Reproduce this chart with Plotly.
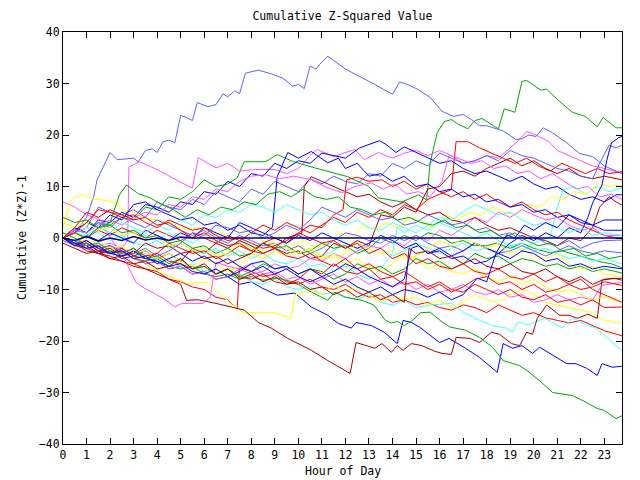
import plotly.graph_objects as go

# ---- data: (hour, cumulative value) waypoints ----
s1 = [(0,0),(0.5,1),(1,4),(1.3,8),(1.45,11.3),(1.7,13.8),(2,16.6),(2.3,15.2),(3,15.5),(3.2,14.8),(3.5,17),(3.8,17.3),(4,16.6),(4.25,18.7),(4.5,19),(4.75,18.5),(5,23.8),(5.25,23.4),(5.5,22.8),(5.7,26.3),(5.9,25.9),(6.15,25.5),(6.5,25.9),(6.8,28),(7,27.4),(7.3,28.6),(7.5,28),(7.75,32),(8.3,32.6),(8.9,31.8),(9.35,31),(9.75,29.5),(10,29.8),(10.25,29),(10.5,33.4),(10.75,32.8),(10.9,33.7),(11.25,35.3),(12,32.8),(12.6,31.4),(13.25,29.8),(14,27.9),(14.3,30.3),(14.65,29.8),(15.1,28.8),(15.6,27.3),(16.1,24.6),(16.6,23.6),(17,24),(17.35,23),(17.7,21.8),(18,21.8),(18.7,20.8),(19.25,19.1),(19.5,19.3),(19.8,20),(20.1,19.7),(20.4,21.4),(20.8,20.4),(21.4,18.5),(21.95,16.4),(22.5,15.8),(23,14),(23.5,13),(23.75,12.5)]
s2 = [(0,0),(0.5,1),(1,2),(1.5,6),(2,5),(2.5,4.5),(3,5.5),(3.5,4),(4,7),(4.5,6),(5,5.5),(5.5,7.5),(6,6.5),(6.5,9),(7,8),(7.5,7),(8,9.5),(8.5,8.5),(9,11),(9.5,10),(10,9),(10.5,11.5),(11,10.5),(11.5,12),(12,11),(12.5,10.5),(13,12.5),(13.5,12),(14,14.5),(14.5,13.5),(15,15),(15.5,14),(16,16.5),(16.5,15.5),(17,14.5),(17.5,15),(18,16),(18.5,15),(19,17),(19.5,16),(20,15.5),(20.5,14.5),(21,13.5),(21.5,13),(22,12),(22.5,11.5),(22.8,14.5),(23.2,18),(23.5,17.5),(23.75,18)]
s3 = [(0,0),(0.5,1.5),(1,1),(1.5,3),(2,2),(2.5,4),(3,3),(3.5,2),(4,3.5),(4.5,2.5),(5,1.5),(5.5,0.5),(6,1.5),(6.5,0),(7,-1),(7.5,0.5),(8,-0.5),(8.5,-1.5),(9,-1),(9.5,-2.5),(10,-1.5),(10.5,-3),(11,-2),(11.5,-0.5),(12,1),(12.5,0.5),(13,-0.5),(13.5,-1),(14,0.5),(14.5,-0.5),(15,0.5),(15.5,-1),(16,-2),(16.5,-1.5),(17,-2.5),(17.5,-1),(18,-2),(18.5,-3),(19,-2.5),(19.5,-1.5),(20,-2.5),(20.5,-3.5),(21,-2.5),(21.5,-1.5),(22,-2.5),(22.5,-3),(23,-2.5),(23.75,-2.9)]
s4 = [(0,-0.5),(0.5,-1.5),(1,-1),(1.5,-2),(2,-1.5),(2.5,-2.5),(3,-3),(3.5,-2),(4,-3.5),(4.5,-2.5),(5,-1),(5.5,1),(6,0.5),(6.5,2.5),(7,2),(7.5,1),(8,1.5),(8.5,0),(9,1),(9.5,2.5),(10,1.5),(10.5,3.5),(11,6),(11.5,5),(12,4),(12.5,5.5),(13,4.5),(13.5,3.5),(14,4),(14.5,2.5),(15,3),(15.5,4.5),(16,3.5),(16.5,2.5),(17,3),(17.5,1.5),(18,2),(18.5,0.5),(19,1),(19.5,-0.5),(20,0.5),(20.5,-1),(21,-1.5),(21.5,-0.5),(22,-2),(22.5,-1),(23,-0.5),(23.75,-0.4)]

g1 = [(0,0),(0.5,2),(1,1),(1.5,3),(2,2.5),(2.5,4),(3,3.5),(3.5,6),(4,5.5),(4.5,8),(5,7.5),(5.5,9),(6,11.3),(6.5,10),(7,10.5),(7.4,11.7),(7.7,14.8),(8.6,14.8),(9.1,16.2),(9.8,14.8),(10.55,13.8),(11.25,12.9),(12.1,11.9),(13,10),(13.4,7.8),(14.4,7),(15.1,8.4),(15.45,7.4),(15.6,14.6),(15.9,20.5),(16.2,22.6),(16.5,23),(16.75,22.2),(17.2,21.2),(17.5,22.8),(17.8,23.2),(18.5,21.2),(18.75,25.1),(19.2,24.4),(19.5,30.4),(19.7,30.6),(20.3,28.7),(20.55,28.9),(21.1,26.5),(21.65,24.4),(22.2,23.6),(22.7,21.6),(22.95,23.4),(23.5,21.4),(23.75,21.4)]
g2 = [(0,0),(0.5,-1.2),(1,-1),(1.5,-2.5),(2,-3),(2.5,-2.5),(3,-4),(3.5,-4.5),(4,-4),(4.5,-5.5),(5,-6),(5.5,-5.5),(6,-7),(6.5,-7.5),(7,-7),(7.5,-8),(8,-7.5),(8.5,-8.2),(9.1,-7.8),(9.85,-8.6),(10.55,-10.5),(11.25,-12.1),(11.55,-10.5),(12,-11.5),(12.7,-12.1),(13.2,-13),(13.7,-16),(13.95,-16.5),(14.2,-16.2),(14.5,-17),(14.85,-16),(15.2,-14.5),(15.6,-14.4),(16.1,-16.3),(16.45,-17.3),(17.1,-17.9),(17.7,-19.3),(18.25,-21.2),(18.7,-23.8),(19.4,-24.8),(19.7,-25.7),(20.25,-27.7),(20.8,-30),(21.65,-30.6),(22.1,-31.6),(22.7,-33.1),(23,-33.5),(23.5,-35.1),(23.75,-34.5)]
g3 = [(0,4),(0.5,3),(1,3.5),(1.5,2),(2,2.5),(2.5,1),(3,1.5),(3.5,0),(4,0.5),(4.5,-1),(5,-0.5),(5.5,-2),(6,-1.5),(6.5,-3),(7,-2),(7.5,-3.5),(8,-3),(8.5,-1),(9,-2),(9.5,-1.5),(10,-3),(10.5,-2.5),(11,-1),(11.5,-2),(12,-1.5),(12.5,-3),(13,-2),(13.5,0),(14,-1),(14.5,0.5),(15,-0.5),(15.5,1),(16,0.5),(16.5,-1),(17,-0.5),(17.4,-1.4),(18,-1.5),(18.4,-1),(19,-2),(19.5,-1),(20,-2),(20.7,-2.9),(21.2,-2.5),(21.8,-3.3),(22.3,-4),(22.9,-4.7),(23.3,-5),(23.75,-5.8)]
g4 = [(0,1),(0.5,0),(1,-1.5),(1.5,-1),(2,-2.5),(2.5,-3),(3,-2),(3.5,-4),(4,-3.5),(4.5,-5),(5,-4),(5.5,-6),(6,-5.5),(6.5,-7),(7,-6),(7.5,-7.5),(8,-6.5),(8.5,-5),(9,-6),(9.5,-5.5),(10,-7),(10.5,-6),(11,-6.5),(11.5,-8),(12,-7),(12.5,-5),(13,-6),(13.5,-5.5),(14,-7),(14.5,-6),(15,-4),(15.5,-5),(16,-4.5),(16.5,-6),(17,-5),(17.5,-3),(18,-4),(18.5,-3.5),(19,-5),(19.5,-4),(20,-4.5),(20.5,-5.5),(21,-5),(21.5,-6),(22,-5.5),(22.5,-6.5),(23,-6),(23.75,-6.8)]
g5 = [(0,0),(0.5,1),(1,0),(1.5,2),(2,3),(2.4,8.4),(2.7,10.3),(3.2,8.6),(3.7,7.8),(4.2,6.5),(4.7,5.5),(5.2,4),(5.7,5.5),(6.2,4.5),(6.7,6),(7.2,5.5),(7.7,7),(8.2,6.5),(8.7,8.5),(9.2,9),(9.7,8),(10.2,9.5),(10.7,8),(11.2,7.5),(11.7,8),(12.2,6),(12.7,5.5),(13.2,4.5),(13.7,5),(14.2,3.5),(14.7,4),(15.2,3),(15.7,2.5),(16.2,3.5),(16.7,2),(17.2,2.5),(17.7,1),(18.2,1.5),(18.7,0),(19.2,1),(19.7,-0.5),(20.2,-1.5),(20.7,-1),(21.2,-2.5),(21.7,-2),(22.2,-3.5),(22.7,-3),(23.2,-4),(23.75,-3.5)]

b1 = [(0,0),(0.5,-1),(1,-1.5),(1.5,-3),(2,-2.5),(2.5,-4),(3,-3.5),(3.5,-5),(4,-4.5),(4.5,-6),(5,-5.5),(5.5,-7),(6,-6.5),(6.5,-8),(7,-7.5),(7.5,-9),(8,-8.5),(8.45,-9.7),(9.1,-11.1),(9.85,-10.7),(10.55,-13.4),(11.25,-15),(11.7,-16.6),(12.25,-17.5),(12.45,-16.4),(13.1,-17),(13.65,-18.3),(14.2,-20.5),(14.45,-16),(14.8,-16.4),(15.15,-17.3),(16,-20.3),(16.4,-19.5),(17.1,-21.4),(17.7,-23.2),(18.45,-26.1),(18.7,-20.5),(19.1,-21.4),(19.5,-20.9),(19.95,-22.4),(20.25,-21.2),(20.8,-22.8),(21.4,-24.4),(21.8,-24.4),(22.25,-25.3),(22.7,-26.7),(22.9,-24.4),(23.35,-25.1),(23.75,-24.9)]
b2 = [(0,0),(0.5,2),(1,1),(1.5,3.5),(2,3),(2.5,5),(3,4),(3.5,6.5),(4,6),(4.5,5),(5,7),(5.5,6.5),(6,9),(6.5,8.5),(7,11),(7.5,10),(8,12.5),(8.5,12),(9,14.5),(9.5,13.5),(10,15),(10.5,14.5),(11,16.5),(11.5,16),(12,15.5),(12.6,17.5),(13.45,18.9),(13.75,18.1),(14.15,16.6),(14.5,17.7),(15,16.6),(15.5,15.5),(16,14.5),(16.5,15),(17,13.5),(17.5,12.5),(18,13),(18.5,12),(19,11),(19.5,12),(20,10.5),(20.5,9.5),(21,10),(21.5,8.5),(22,7.5),(22.5,8),(23,7),(23.5,8.4),(23.75,8.4)]
b3 = [(0,0),(0.5,1.5),(1,3),(1.5,2),(2,4.5),(2.5,3.5),(3,6.5),(3.5,7),(4,5.5),(4.5,4.5),(5,3.5),(5.5,4),(6,2.5),(6.5,3),(7,1.5),(7.5,2.5),(8,1),(8.5,0.5),(8.9,2.1),(9.1,11.9),(9.55,16.6),(10,15.5),(10.55,16.8),(11.25,14.6),(11.7,15.5),(12,13.5),(12.5,14.5),(13,12),(13.5,12.5),(14,11),(14.5,12),(15,10),(15.5,10.5),(16,9),(16.5,9.5),(17,8),(17.5,8.5),(18,7),(18.5,7.5),(19,6),(19.5,6.5),(20,5),(20.5,5.5),(21,4),(21.5,4.5),(22,3),(22.5,2.5),(23,1.5),(23.75,1.5)]
b4 = [(0,0),(0.5,-1),(1,0.5),(1.5,-0.5),(2,1),(2.5,0),(3,-1),(3.5,1.5),(4,0.5),(4.5,-0.5),(5,1),(5.5,0),(6,2),(6.5,1),(7,0),(7.5,3),(8,2),(8.5,1),(9,0),(9.5,-1),(10,0.5),(10.5,-0.5),(11,1),(11.5,0),(12,-1),(12.5,-2),(13,-1),(13.5,0.5),(14,-0.5),(14.5,-2),(15,-1),(15.5,-3),(16,-2),(16.5,-3.5),(17,-2.5),(17.5,-1),(18,-2),(18.5,-3),(19,-1),(19.5,0.5),(20,-0.5),(20.5,1),(21,0),(21.5,2),(22,1),(22.3,4),(22.5,6.8),(22.9,10.3),(23.1,15),(23.3,18.5),(23.5,19.1),(23.6,19.5),(23.75,19.7)]
b5 = [(0,0),(0.5,-1),(1,-2),(1.5,-1.5),(2,-3),(2.5,-3.5),(3,-2.5),(3.5,-4),(4,-4.5),(4.5,-5.5),(5,-5),(5.5,-6.5),(6,-7),(6.5,-6),(7,-7.5),(7.5,-6.5),(8,-5),(8.5,-4.5),(9,-6),(9.5,-5.5),(10,-7),(10.5,-6),(11,-7.5),(11.5,-6.5),(12,-5),(12.5,-6),(13,-7.5),(13.5,-8.5),(14,-9.5),(14.5,-8),(14.8,-2),(15.1,-1.5),(15.5,-3),(16,-2.5),(16.5,-4),(17,-3.5),(17.5,-5),(18,-4.5),(18.5,-3),(19,-4),(19.5,-2.5),(20,-3),(20.5,-4.5),(21,-4),(21.5,-5.5),(22,-5),(22.5,-6),(23,-5.5),(23.75,-6)]
b6 = [(0,0),(0.5,-1.5),(1,-0.5),(1.5,-2),(2,-3),(2.5,-2.5),(3,-4),(3.5,-3.5),(4,-5),(4.5,-4),(5,-3),(5.5,-4.5),(6,-3.5),(6.5,-5),(7,-4),(7.5,-5.5),(8,-6.5),(8.5,-5.5),(9,-7),(9.5,-6),(10,-7.5),(10.5,-8.5),(11,-7.5),(11.5,-9),(12,-8),(12.5,-9.5),(13,-10.5),(13.5,-9.5),(14,-11),(14.5,-10),(15,-10.5),(15.5,-11.5),(16,-10.5),(16.5,-12),(17,-11),(17.6,-7.8),(18,-8.5),(18.4,-2.9),(18.85,0.6),(19.2,0),(19.6,2.5),(20,1.5),(20.5,3),(21,2),(21.5,4.5),(22,3.5),(22.5,2.5),(23,3.5),(23.75,3.5)]

m1 = [(0,0),(0.5,-1),(1,-0.5),(1.5,-1.5),(2,-1),(2.5,-2),(2.75,-0.5),(2.8,13.8),(3.25,14.8),(4,13.3),(4.8,11.3),(5.5,9.7),(5.75,15.6),(6.5,13.6),(7,14.5),(7.5,13),(8.15,13.3),(9,13.3),(9.5,12.5),(10,13.5),(10.5,16),(10.8,17.2),(11.5,15.8),(12,16.5),(12.4,17.2),(12.8,15.2),(13.4,16.6),(14,15.5),(14.5,16.5),(15,17),(15.5,16),(16,17),(16.5,16),(17,14.5),(17.5,15),(18,16),(18.5,15.5),(19.3,18.7),(19.7,20.7),(20.1,20),(20.65,18.7),(21,17),(21.5,16),(22,15),(22.5,14),(23,13.5),(23.75,12.6)]
m2 = [(0,7),(0.5,6),(1,4.5),(1.6,3.5),(2,0),(2.5,-3),(3.1,-8.6),(3.4,-9.6),(4.25,-11.7),(4.75,-13.4),(5.05,-12.7),(5.95,-12.7),(6.25,-11.5),(6.4,-7.8),(6.5,-4.7),(7,-5.5),(7.5,-6),(8,-5),(8.5,-7),(9,-6.5),(9.5,-8),(10,-7.5),(10.5,-9),(11,-8),(11.5,-7),(12,-8.5),(12.5,-7.5),(13,-9),(13.5,-8),(14,-9.5),(14.5,-8.5),(15,-10),(15.5,-9),(16,-10.5),(16.5,-10),(17,-9),(17.5,-10.5),(18,-11),(18.5,-10),(19,-11.5),(19.5,-11),(20,-12.5),(20.5,-12),(21,-11),(21.5,-12),(22,-11.5),(22.5,-12),(22.9,-9.2),(23.75,-8.6)]
m3 = [(0,0),(0.5,-1),(1,-2),(1.5,-1.5),(2,-3),(2.5,-2.5),(3,-4),(3.5,-5),(4,-4.5),(4.5,-6),(5,-5.5),(5.5,-7),(6,-6.5),(6.5,-8),(7,-7.5),(7.5,-6),(8,-7),(8.5,-6.5),(9,-5),(9.5,-6),(10,-5.5),(10.5,-4),(11,-4.5),(11.5,-3),(12,-4),(12.5,-2.5),(13,-1.5),(13.5,-2),(14,-0.5),(14.5,-1.5),(15,0.5),(15.5,-0.5),(16,1.5),(16.5,0.5),(17,2),(17.5,4),(18,3),(18.5,5),(19,4),(19.5,5.5),(20,4.5),(20.5,3.5),(21,4),(21.5,2.5),(22,1.5),(22.5,2),(23,0.5),(23.75,0.5)]
m4 = [(0,0),(0.5,1.5),(1,1),(1.5,2.5),(2,3.5),(2.5,2.5),(3,4),(3.5,5),(4,4.5),(4.5,6.5),(5,6),(5.5,8),(6,7.5),(6.5,9.5),(7,9),(7.5,11),(8,12),(8.6,12.3),(9.2,11.5),(9.8,12),(10.55,11.3),(11.1,10),(11.85,8.8),(12.4,10),(13.1,10.7),(13.6,9.5),(14.1,10.5),(14.6,8.5),(15.1,9),(15.6,8),(16.1,11),(16.4,16),(16.8,15.5),(17.3,14.5),(17.8,15),(18.3,13.5),(18.8,14),(19.3,12.5),(19.8,13),(20.3,11.5),(20.8,12.5),(21.3,11),(21.8,9.5),(22.3,10),(22.8,8),(23.3,8.5),(23.75,7.5)]

c1 = [(0,0),(0.5,-0.5),(1,-1.5),(1.5,-1),(2,-2.5),(2.5,-2),(3,-3.5),(3.5,-3),(4,-4.5),(4.5,-4),(5,-5.5),(5.5,-5),(6,-6.5),(6.5,-6),(7,-7.5),(7.5,-7),(8,-8.5),(8.5,-9),(9,-8),(9.5,-9.5),(10,-10),(10.5,-9.5),(11,-11),(11.5,-10.5),(12,-11.5),(12.5,-12),(13,-11),(13.5,-12.5),(14,-13),(14.5,-12.2),(15,-13.5),(15.6,-13),(16.5,-12.7),(17,-14.4),(17.7,-16),(18.25,-17),(18.85,-17.5),(19.1,-18.3),(19.3,-16.4),(19.8,-16.8),(20.45,-15.6),(20.9,-16.6),(21.2,-17.5),(21.65,-15.6),(22.2,-16.8),(22.65,-17.5),(23.5,-20.9),(23.75,-21.8)]
c2 = [(0,0),(0.5,1),(1,0.5),(1.5,2),(2,1),(2.5,0),(3,1.5),(3.5,0.5),(4,-0.5),(4.5,1),(5,0),(5.5,-1),(6,0.5),(6.5,-0.5),(7,-1.5),(7.5,-0.5),(8,-2),(8.5,-1),(9,-2.5),(9.5,-1.5),(10,-3),(10.5,-2),(11,-3.5),(11.5,-2.5),(12,-1),(12.5,-2),(13,-3),(13.5,-2),(14,-3.5),(14.5,-2.5),(15,-1),(15.5,-2),(16,-3),(16.5,-2),(17,-1),(17.5,-2.5),(18,-2),(18.5,-3),(19,-1.5),(19.5,-2.5),(20,-1),(20.7,0.2),(21,6),(21.25,9.4),(21.7,10),(22.2,8.5),(22.7,10),(23.2,9),(23.75,9.7)]
c3 = [(0,0),(0.5,1),(1,2),(1.5,1),(2,-0.5),(2.5,0.5),(3,-1),(3.5,-1.5),(4,-0.5),(4.5,-2),(5,-1),(5.5,-2.5),(6,-3),(6.5,-2),(7,-3.5),(7.5,-2.5),(8,-4),(8.5,-3),(9,-4.5),(9.5,-5),(10,-4),(10.5,-5.5),(11,-5),(11.5,-6.5),(12,-5.5),(12.5,-7),(13,-8),(13.5,-6),(14,-3),(14.2,2),(14.5,1),(15,2.5),(15.5,1.5),(16,3),(16.5,2),(17,1),(17.5,0),(18,1),(18.5,-0.5),(19,-1.5),(19.5,-1),(20,-2.5),(20.5,-2),(21,-3),(21.5,-4),(22,-3.5),(22.5,-4.5),(23,-4),(23.75,-5)]
c4 = [(0,0),(0.5,-1),(1,0.5),(1.5,2),(2,1),(2.5,3),(3,2),(3.5,1),(4,2.5),(4.5,1.5),(5,3.5),(5.5,2.5),(6,4.5),(6.5,4),(7,5.5),(7.5,5),(8,6.5),(8.5,6),(9,5),(9.5,6.5),(10,5.5),(10.5,4.5),(11,5),(11.5,3.5),(12,2.5),(12.5,3.5),(13,2),(13.5,1.5),(14,3),(14.5,2),(15,1),(15.5,2.5),(16,4),(16.5,3.5),(17,5),(17.5,6.5),(18,5.5),(18.5,4.5),(19,5),(19.5,3.5),(20,2.5),(20.5,3),(21,2),(21.5,1),(22,2),(22.5,0.5),(23,1),(23.75,0.5)]

y1 = [(0,0),(0.5,1),(1,-0.5),(1.5,-1.5),(2,-2),(2.5,-3),(3,-3.5),(3.5,-5),(4.1,-6.6),(4.6,-7.5),(5.25,-8.8),(6.1,-8.6),(6.65,-10.7),(7.2,-13),(7.7,-14.6),(8.3,-14.4),(9.1,-14.6),(9.7,-15.6),(9.85,-11.1),(10.5,-10),(11,-11),(11.5,-9),(12,-10.5),(12.5,-9.5),(13,-11),(13.5,-12.5),(14,-11),(14.5,-12),(15,-11.5),(15.5,-13),(16,-12),(16.5,-13.5),(17,-12.5),(17.5,-11),(18,-12),(18.5,-12.5),(19,-11),(19.5,-10),(20,-11),(20.5,-12.5),(21,-13),(21.5,-13.5),(22,-14),(22.5,-14.5),(23,-16),(23.75,-16.5)]
y2 = [(0,2),(0.3,7),(0.5,8),(0.9,8.4),(1.3,7.5),(1.7,7.4),(2.3,6.8),(2.5,5.5),(3,5),(3.5,3.9),(4,3.5),(4.7,2.5),(5.25,1.6),(5.75,2),(6.25,0.5),(6.75,1),(7.25,-0.5),(7.75,1.5),(8.25,0),(8.75,-1),(9.25,0.5),(9.75,-1.5),(10.25,-0.5),(10.75,-2),(11.25,-1),(11.75,1),(12.25,0),(12.75,2.5),(13.25,1.5),(13.75,3),(14.25,2),(14.75,4),(15.25,3),(15.75,2),(16.25,4.5),(16.75,3.5),(17.25,5),(17.75,4.5),(18.25,6),(18.75,5),(19.25,4.5),(19.75,6.5),(20.25,6),(20.75,8),(21.25,7.5),(21.75,9),(22.25,8.5),(22.75,10.5),(23.25,10),(23.75,10.3)]
y3 = [(0,1),(0.5,0),(1,-1),(1.5,-0.5),(2,-2),(2.5,-1.5),(3,-3),(3.5,-2.5),(4,-4),(4.5,-3),(5,-4.5),(5.5,-5.5),(6,-4),(6.5,-5),(7,-6.5),(7.5,-5.5),(8,-3),(8.5,-4),(9,-2.5),(9.5,-3.5),(10,-1.5),(10.5,-2.5),(11,-4),(11.5,-3),(12,-5),(12.5,-4),(13,-5.5),(13.5,-6.5),(14,-5),(14.5,-3),(15,-4),(15.5,-6),(16,-5),(16.5,-6.5),(17,-7),(17.5,-6),(18,-7.5),(18.5,-8.5),(19,-7.5),(19.5,-9),(20,-8),(20.5,-9.5),(21,-10.5),(21.5,-10),(22,-11),(22.5,-12),(23,-11.5),(23.75,-12.5)]
y4 = [(0,3),(0.5,2),(1,3),(1.5,1.5),(2,2),(2.5,0.5),(3,1),(3.5,-0.5),(4,0),(4.5,-1.5),(5,-1),(5.5,-2.5),(6,-2),(6.5,-3.5),(7,-3),(7.5,-1),(8,-2),(8.5,-2.5),(9,-1),(9.5,-2),(10,-3),(10.5,-2),(11,-3.5),(11.5,-4),(12,-3),(12.5,-1),(13,-2),(13.5,-3),(14,-2.5),(14.5,-4),(15,-3.5),(15.5,-2),(16,-0.5),(16.5,-1.5),(17,0),(17.5,-1),(18,-2),(18.5,-1),(19,-3),(19.5,-2),(20,-3.5),(20.5,-4),(21,-3),(21.5,-5),(22,-6),(22.5,-5.5),(23,-7),(23.75,-7.5)]

d1 = [(0,0),(0.5,-1),(1,-2.5),(1.5,-3),(2,-4),(2.5,-4.5),(3,-5.5),(3.5,-6),(4,-7),(4.5,-8),(5,-9),(5.25,-12.1),(5.75,-12),(6.5,-12.7),(7.2,-13.4),(7.7,-14),(8.3,-16.4),(8.85,-17.5),(9.55,-19.5),(9.98,-20.5),(10.55,-21.8),(11.25,-23.8),(11.95,-25.7),(12.2,-26.3),(12.45,-20.3),(12.95,-20.9),(13.25,-21.4),(13.55,-20.5),(13.95,-22.2),(14.2,-20.9),(14.45,-21.8),(14.8,-20.5),(15.25,-20.9),(15.8,-22),(16.1,-22.4),(16.5,-22.6),(16.7,-19.3),(17.3,-19.5),(17.7,-20.3),(18.2,-18.3),(18.55,-18.7),(19.05,-20.5),(19.4,-20.9),(19.7,-18.3),(19.95,-18.7),(20.15,-15.6),(20.55,-13),(21.1,-15),(21.5,-15),(21.85,-15.6),(22.3,-14.8),(22.7,-15.6),(22.9,-8.2),(23.4,-7.8),(23.75,-8.2)]
d2 = [(0,0),(0.5,-0.5),(1,-2),(1.5,-1.5),(2,-3),(2.5,-2),(3,-3.5),(3.5,-2.5),(4,-4),(4.5,-3),(5,-4.5),(5.5,-2),(6,-3),(6.5,-1),(7,-2),(7.5,-0.5),(8,-1.5),(8.5,-3),(9,-2),(9.5,-3),(10,-2.5),(10.5,-4),(11,-3.5),(11.5,-1),(12,-2),(12.5,-0.5),(13,-1.5),(13.5,4.5),(14,4),(14.5,6),(15,5),(15.5,9.5),(16,10),(16.5,12.5),(17,13),(17.5,12),(18,13.5),(18.5,14.5),(19,15.5),(19.5,14),(20,15),(20.5,13.5),(21,12.5),(21.5,13.5),(22,12),(22.5,11.5),(23,12),(23.75,11.3)]
d3 = [(0,0),(0.5,-1.5),(1,-1),(1.5,-2.5),(2,-2),(2.5,-3.5),(3,-3),(3.5,-1),(4,-2),(4.5,-1.5),(5,-3),(5.5,-2.5),(6,-4),(6.5,-3.5),(7,-5),(7.5,-4),(8,-3),(8.5,-1),(9,-2),(9.5,0),(10.15,1),(10.25,10),(10.55,11.9),(11,11),(11.5,10),(12,9),(12.5,8),(13,8.5),(13.5,7),(14,6),(14.5,7),(15,5.5),(15.5,4.5),(16,5),(16.5,3.5),(17,3),(17.5,4),(18,2.5),(18.5,1.5),(19,2),(19.5,1),(20,0),(20.5,-0.5),(21,-1.5),(21.5,0),(22,-0.5),(22.5,2),(22.8,6),(23.2,8),(23.5,7),(23.75,6.4)]
d4 = [(0,-1),(0.5,-2),(1,-3),(1.5,-2.5),(2,-4),(2.5,-3.5),(3,-5),(3.5,-4.5),(4,-6),(4.5,-5.5),(5,-4),(5.5,-6),(6,-5),(6.5,-7),(7,-6),(7.5,-8),(8,-7),(8.5,-8.5),(9,-7.5),(9.5,-9),(10,-8.5),(10.5,-10),(11,-9.5),(11.5,-11),(12,-10),(12.5,-11.5),(13,-10.5),(13.5,-12),(14,-11),(14.5,-12.5),(14.7,-2),(15,-3),(15.5,-2.5),(16,-4),(16.5,-3.5),(17,-5),(17.5,-4),(18,-5.5),(18.5,-6),(19,-5),(19.5,-6.5),(20,-7),(20.5,-6),(21,-7.5),(21.5,-8.5),(22,-7.5),(22.5,-9),(23,-8),(23.75,-7.8)]

r1 = [(0,0),(0.5,-1.5),(1,-2),(1.5,-3),(2,-3.5),(2.5,-4.5),(3,-5),(3.5,-6),(4,-6.5),(4.5,-8),(5,-8.5),(5.5,-9.5),(6,-10),(6.5,-11.5),(7,-12),(7.4,-13.8),(7.5,-5.8),(8,-6.5),(8.5,-7.5),(9,-7),(9.5,-8.5),(10,-9),(10.5,-8),(11,-9.5),(11.5,-10),(12,-9),(12.5,-10.5),(13,-11.5),(13.5,-11),(14,-12.5),(14.5,-12),(15,-13),(15.5,-12.5),(16,-13.5),(16.5,-14),(17,-13),(17.5,-13.5),(18,-14.5),(18.5,-13),(19,-14),(19.5,-15),(20,-14.5),(20.5,-15.5),(21,-16),(21.5,-16.5),(22,-16),(22.5,-17),(23,-18),(23.75,-19)]
r2 = [(0,0),(0.5,1),(1,0),(1.5,1.5),(2,0.5),(2.5,2),(3,1),(3.5,0),(4,1.5),(4.5,0.5),(5,-0.5),(5.5,1),(6,0),(6.5,-1),(7,0.5),(7.5,-0.5),(8,1),(8.5,2.5),(9,1.5),(9.5,3),(10,2),(10.5,1),(11,2.5),(11.5,4),(12,3),(12.5,5),(13,4),(13.5,5.5),(14,4.5),(14.5,6.5),(15,5.5),(15.5,7.5),(16,8.5),(16.5,9.4),(16.7,18.7),(17.2,18.7),(17.7,17.5),(18.2,16.5),(18.7,15.5),(19.2,14.5),(19.7,15.5),(20.2,14),(20.7,13),(21.2,14.5),(21.7,13.5),(22.2,12.5),(22.7,13.5),(23.2,12.5),(23.75,12.9)]
r3 = [(0,0),(0.5,-1),(1,-0.5),(1.5,-2),(2,-1.5),(2.5,-3),(3,-2),(3.5,-3.5),(4,-3),(4.5,-1),(5,-2),(5.5,-3),(6,-2.5),(6.5,-4),(7,-3),(7.5,-1.5),(8,-2.5),(8.5,-1),(9,0),(9.5,-1),(10,1),(10.5,2.5),(11,2),(11.5,4.5),(11.9,5.5),(12.05,11.3),(12.5,11.8),(13,11),(13.55,11.3),(14,10),(14.5,11),(15,9.5),(15.5,10.5),(16,9),(16.5,8),(17,9),(17.5,7.5),(18,8.5),(18.5,7),(19,6),(19.5,7),(20,5.5),(20.5,4.5),(21,5),(21.5,3.5),(22,2.5),(22.5,1.5),(23,0.5),(23.75,-0.2)]
r4 = [(0,0),(0.5,-1.5),(1,-1),(1.5,-2.5),(2,-3),(2.5,-2),(3,-3.5),(3.5,-4),(4,-3),(4.5,-4.5),(5,-5),(5.5,-6),(6,-5.5),(6.5,-7),(7,-6),(7.5,-7.5),(8,-8),(8.5,-7),(9,-8.5),(9.5,-9),(10,-8),(10.5,-6),(11,-7),(11.5,-5),(12,-6.5),(12.5,-7),(13,-6),(13.5,-8),(14,-7.5),(14.5,-9),(15,-8.5),(15.5,-10),(16,-9),(16.5,-10.5),(17,-9.5),(17.5,-8),(18,-7.5),(18.5,-9),(19,-8.5),(19.5,-10),(20,-9),(20.5,-10.5),(21,-10),(21.5,-9),(22,-10),(22.5,-9.5),(23,-8.5),(23.75,-9.2)]
r5 = [(0,0),(0.5,2),(1,5),(1.5,4),(2,5.5),(2.5,4.5),(3,3.5),(3.5,4),(4,2.5),(4.5,3),(5,1.5),(5.5,0),(6,1),(6.5,-0.5),(7,-1.5),(7.5,-1),(8,-2.5),(8.5,-3),(9,-2),(9.5,-3.5),(10,-4),(10.5,-3),(11,-4.5),(11.5,-5.5),(12,-4),(12.5,-6),(13,-5),(13.5,-6.5),(14,-7.5),(14.5,-6.5),(15,-8),(15.5,-9.5),(16,-8.5),(16.5,-10),(17,-10.5),(17.5,-9),(18,-10),(18.5,-11),(19,-10),(19.5,-11.5),(20,-12),(20.5,-11),(21,-12.5),(21.5,-12),(22,-13),(22.5,-12),(23,-13.5),(23.75,-13.4)]
r6 = [(0,0),(0.5,1),(1,3),(1.5,5.5),(2,5),(2.5,4),(3,4.5),(3.5,3),(4,2),(4.5,3.5),(5,2.5),(5.5,1.5),(6,2),(6.5,0.5),(7,-0.5),(7.5,0),(8,-1),(8.5,-2),(9,-1.5),(9.5,-0.5),(10,1),(10.5,0),(11,-1),(11.5,-0.5),(12,-2),(12.5,-1),(13,-3),(13.5,-2),(14,-4),(14.5,-3),(15,-5),(15.5,-4),(16,-5.5),(16.5,-6),(17,-5),(17.5,-6.5),(18,-7),(18.5,-6),(19,-7.5),(19.5,-8),(20,-7),(20.5,-8.5),(21,-7.5),(21.5,-9),(22,-8),(22.5,-10),(23,-11),(23.75,-12.5)]

zero_line = [(0,0),(0.5,-0.5),(1,0.3),(1.5,-0.6),(2,0),(2.5,-0.5),(3,0.3),(3.5,-0.4),(4,0),(4.5,-0.5),(5,0.2),(5.4,0),(23.75,0)]

# ---- styling ----
RED, GREEN, BLUE, MAG, CYAN, YEL, DRED, SLATE, NAVY = (
    "#ff0000", "#00a800", "#0000ff", "#ff55ff", "#44ffff", "#ffff00", "#aa0000", "#6060ff", "#000090")

series = [
    (r1, RED), (g1, GREEN), (b1, BLUE), (m1, MAG), (c1, CYAN), (y1, YEL), (d1, DRED), (s1, SLATE),
    (r2, RED), (g2, GREEN), (b2, BLUE), (m2, MAG), (c2, CYAN), (y2, YEL), (d2, DRED), (s2, SLATE),
    (r3, RED), (g3, GREEN), (b3, BLUE), (m3, MAG), (c3, CYAN), (y3, YEL), (d3, DRED), (s3, SLATE),
    (r4, RED), (g4, GREEN), (b4, BLUE), (m4, MAG), (c4, CYAN), (y4, YEL), (d4, DRED), (s4, SLATE),
    (r5, RED), (g5, GREEN), (b5, BLUE), (r6, RED), (b6, BLUE),
    (zero_line, NAVY),
]

FONT = "DejaVu Sans Mono"
TXT = dict(family=FONT, size=11.5, color="black")
fig = go.Figure()
for pts, col in series:
    fig.add_trace(go.Scatter(
        x=[p[0] for p in pts], y=[p[1] for p in pts], mode="lines",
        line=dict(color=col, width=1.5 if col == NAVY else 1), showlegend=False, hoverinfo="skip"))

axis_common = dict(showgrid=False, zeroline=False, showline=True, linecolor="black", linewidth=1,
                   mirror="ticks", ticks="inside", ticklen=6, tickcolor="black", tickwidth=1,
                   automargin=False, tickfont=TXT)
fig.update_xaxes(range=[0, 23.75], tickmode="array", tickvals=list(range(24)), **axis_common)
fig.update_yaxes(range=[-40, 40], tickmode="array", tickvals=list(range(-40, 41, 10)), **axis_common)
fig.update_layout(
    width=640, height=480, margin=dict(l=63, r=18, t=32, b=36),
    plot_bgcolor="white", paper_bgcolor="white",
    title=dict(text="Cumulative Z-Squared Value", x=0.535, xanchor="center", y=0.966, yanchor="middle",
               font=TXT),
    annotations=[
        dict(text="Hour of Day", xref="paper", yref="paper", x=0.5, y=0, xanchor="center",
             yanchor="middle", yshift=-27, showarrow=False, font=TXT),
        dict(text="Cumulative (Z*Z)-1", xref="paper", yref="paper", x=0, y=0.5, xanchor="center",
             yanchor="middle", xshift=-41, textangle=-90, showarrow=False, font=TXT),
    ],
)
fig.write_html("out.html")
